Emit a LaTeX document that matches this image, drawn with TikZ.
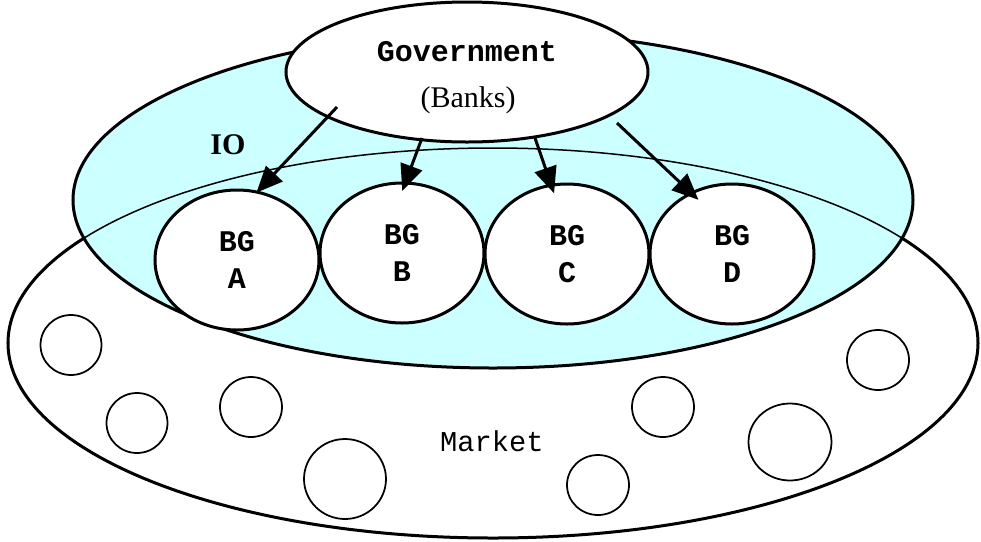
\documentclass[tikz,border=0pt]{standalone}
\usepackage{fontspec}
\setmainfont{Liberation Serif}
\setmonofont{Liberation Mono}
\usetikzlibrary{shapes.geometric,arrows.meta}
\definecolor{iocyan}{RGB}{204,255,255}

\begin{document}
\begin{tikzpicture}[x=0.4pt,y=-0.4pt,
		blob/.style={ellipse,draw,line width=1.2pt,inner sep=0pt},
		bubble/.style={ellipse,draw,line width=0.7pt,fill=white,inner sep=0pt},
		link/.style={line width=1.2pt,-{Triangle[length=10.5pt,width=9pt]}},
		bgtext/.style={font=\fontsize{12}{14.5}\selectfont\ttfamily\bfseries,align=center}]
	\useasboundingbox (0,0) rectangle (981,541);
	
	% Define the market and the IO ring
	\node[blob,fill=white,minimum width=388pt,minimum height=156pt] (market) at (493,343) {};
	\node[blob,fill=iocyan,minimum width=336pt,minimum height=134.4pt] (io) at (493,200) {};
	\draw[line width=0.6pt] (market.center) ellipse [x radius=194pt,y radius=78pt];
	
	% Draw the government
	\node[blob,fill=white,minimum width=144.8pt,minimum height=56pt] (gov) at (467,72) {};
	\node[font=\fontsize{12}{14.5}\selectfont\ttfamily\bfseries] (govname) at (467,52) {Government};
	\node[font=\fontsize{12}{14.5}\selectfont] (govbanks) at (468,100) {(Banks)};
	
	% Draw the business groups
	\foreach \n/\px/\py in {A/237/260,B/402/253,C/567/254,D/732/254}
		\node[blob,fill=white,minimum width=65.6pt,minimum height=56pt,bgtext] (bg\n) at (\px,\py) {BG\\\n};
	
	% Draw the firms in the market
	\foreach \px/\py/\w/\h [count=\i] in {71/345/24.4/24,137/423/24.4/24,251/407/24.8/24,345/479/32.8/32,
			598/485/24.8/24,663/407/24.8/24,790/442/33.2/30.8,878/360/24.8/24}
		\node[bubble,minimum width=\w pt,minimum height=\h pt] (firm\i) at (\px,\py) {};
	
	\node[font=\fontsize{11.5}{14}\selectfont\ttfamily] (mktname) at (492,441) {Market};
	\node[font=\fontsize{12}{14}\selectfont\bfseries] (ioname) at (228,145) {IO};
	
	% Draw the links from the government
	\coordinate (gA) at (337,107);
	\coordinate (gB) at (422,138);
	\coordinate (gC) at (535,138);
	\coordinate (gD) at (617,123);
	\draw[link,shorten >=-1pt] (gA) -- (bgA.73);
	\draw[link,shorten >=-4pt] (gB) -- (bgB.87);
	\draw[link,shorten >=-4pt] (gC) -- (bgC.103);
	\draw[link,shorten >=-4.5pt] (gD) -- (bgD.124);
\end{tikzpicture}
\end{document}
